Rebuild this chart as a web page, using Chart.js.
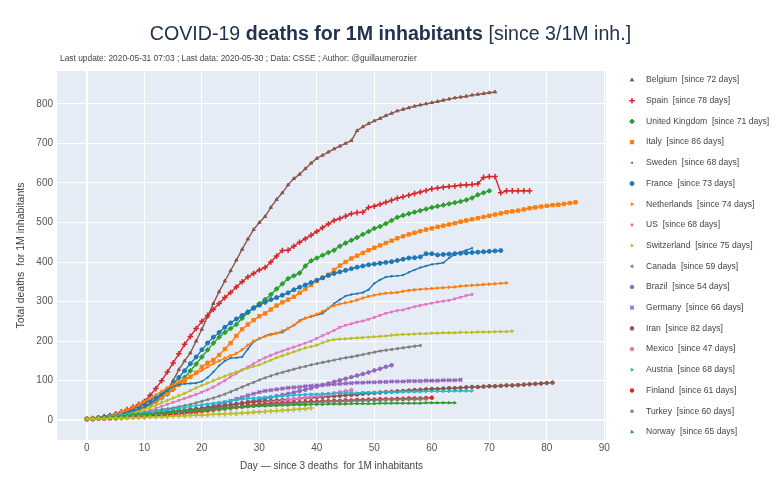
<!DOCTYPE html>
<html>
<head>
<meta charset="utf-8">
<script src="https://cdn.jsdelivr.net/npm/chart.js@4.4.0/dist/chart.umd.min.js"></script>
<style>
    body { margin: 0; background: #fff; font-family: "Liberation Sans", Arial, sans-serif; }
    #wrap { position: relative; width: 781px; height: 497px; }
    #wrap canvas { position: absolute; left: 0; top: 0; }
    #title { position: absolute; left: 0; width: 781px; top: 22px; text-align: center; font-size: 19.6px; color: #22334f; white-space: nowrap; }
    #sub { position: absolute; left: 60px; top: 53px; font-size: 8.4px; color: #444; white-space: nowrap; }
</style>
</head>
<body>
<div id="wrap">
    <canvas id="chart" width="781" height="497"></canvas>
    <div id="title">COVID-19 <b>deaths for 1M inhabitants</b> [since 3/1M inh.]</div>
    <div id="sub">Last update: 2020-05-31 07:03 ; Last data: 2020-05-30 ; Data: CSSE ; Author: @guillaumerozier</div>
</div>
<script>
// Deaths per 1M inhabitants, one value per day since 3 deaths / 1M
const belgium = [3,4,5,7,9,12,15,19,24,30, 36,43,52,62,75,100,128,150,170,200,
    230,262,295,325,352,378,405,432,458,482, 500,515,538,558,575,595,611,622,636,650,
    662,670,678,686,693,700,707,732,742,750, 757,763,770,776,782,786,790,794,797,800,
    803,806,809,812,815,817,819,822,824,826, 828,830];
const spain = [3,4,6,9,12,16,21,27,33,40, 48,63,80,100,122,145,168,192,212,232,
    250,265,280,295,310,323,337,350,362,371, 380,386,400,415,429,430,440,450,459,468,
    477,487,496,505,510,516,522,525,526,538, 541,546,551,556,561,565,569,573,577,581,
    585,587,589,591,592,594,595,596,598,614, 616,616,575,580,580,580,580,580];
const unitedKingdom = [3,4,5,7,9,11,14,17,21,26, 32,39,47,56,66,78,92,108,125,142,
    160,178,195,210,222,232,242,258,272,285, 295,305,318,332,345,358,365,372,390,403,
    410,417,424,430,440,448,455,462,470,477, 485,490,497,505,513,518,522,526,530,534,
    538,541,544,547,550,553,557,562,570,575, 580];
const italy = [3,4,6,7,10,13,17,20,24,28, 33,41,48,57,67,80,90,100,110,120,
    135,145,152,165,180,195,213,230,242,253, 263,270,280,290,298,305,312,322,332,342,
    352,360,368,380,391,400,409,416,423,430, 436,442,448,454,460,465,470,474,478,482,
    485,489,492,495,498,502,505,508,511,514, 517,520,523,526,528,530,533,536,538,540,
    542,544,545,547,549,551];
const sweden = [3,4,5,7,9,12,15,19,23,28, 33,42,52,64,76,86,90,92,93,94,
    98,108,122,138,150,157,158,160,180,198, 206,213,218,220,222,232,240,252,258,262,
    266,270,282,295,305,314,318,320,323,330, 346,355,362,364,365,367,374,380,386,390,
    394,396,398,410,420,425,430,435];
const france = [3,4,6,8,11,14,18,23,29,35, 42,50,58,67,78,92,108,125,143,160,
    178,195,210,222,235,246,256,265,274,283, 291,298,305,310,316,322,330,336,342,348,
    354,360,366,371,375,379,383,387,390,393, 395,397,399,401,404,407,410,411,413,421,
    421,418,419,420,421,422,423,424,425,426, 427,428,429];
const netherlands = [3,4,6,8,11,15,20,26,32,39, 47,55,64,73,82,90,98,104,110,118,
    126,135,143,150,157,163,169,178,190,200, 207,212,216,220,226,232,240,250,258,263,
    268,275,283,290,294,297,300,304,309,313, 316,319,321,322,323,326,328,330,331,332,
    333,334,335,336,337,339,340,341,342,343, 344,345,346,347];
const us = [3,4,5,6,8,10,12,14,16,18, 21,25,30,35,40,45,50,55,60,65,
    71,77,84,92,100,110,118,127,135,143, 151,158,164,170,175,180,185,190,195,200,
    207,214,220,227,235,240,244,248,251,255, 260,265,270,274,277,279,283,287,290,293,
    296,299,301,303,307,311,315,318];
const switzerland = [3,4,5,7,9,11,13,15,18,21, 27,32,38,44,50,56,62,68,75,82,
    88,94,100,106,111,117,122,127,132,136, 140,146,152,158,163,168,173,178,183,186,
    190,196,201,204,205,206,207,208,209,210, 211,212,213,215,216,217,217,218,219,219,
    220,220,221,221,221,222,222,222,223,223, 223,224,224,224,225];
const canada = [3,4,5,6,8,9,11,13,15,17, 19,22,24,27,29,31,34,37,40,44,
    48,52,56,61,66,72,78,84,90,96, 102,107,112,117,121,125,129,133,136,140,
    143,146,149,152,155,158,160,163,166,169, 172,175,177,179,181,183,185,187,189];
const brazil = [3,3,4,4,5,5,6,7,8,9, 11,12,13,15,16,18,20,21,23,25,
    27,29,31,33,36,38,41,43,46,49, 52,55,58,61,64,67,70,74,77,81,
    85,89,93,97,101,105,109,113,117,121, 126,130,135,139];
const germany = [3,3,4,4,5,6,7,8,9,10, 11,13,14,16,18,20,22,24,26,28,
    30,33,36,40,44,49,54,58,63,67, 71,74,76,78,80,82,83,84,86,87,
    88,89,90,91,92,93,94,95,95,96, 96,97,97,98,98,98,99,99,99,100,
    100,100,101,101,101,102];
const iran = [3,4,5,6,7,8,9,10,12,13, 15,16,18,19,21,22,24,25,27,28,
    30,32,33,35,37,39,41,43,45,46, 47,48,49,50,51,52,53,55,56,57,
    58,59,60,61,62,63,64,65,67,68, 69,70,71,72,73,74,75,76,77,78,
    79,79,80,81,81,82,83,84,84,85, 86,86,87,88,88,89,90,91,92,93,
    94,95];
const mexico = [3,3,4,4,5,5,6,7,8,9, 10,11,12,13,14,15,16,18,19,20,
    22,23,25,27,28,30,32,34,36,38, 40,42,44,46,48,51,53,55,58,60,
    62,64,66,68,71,73,76];
const austria = [3,5,6,8,10,11,13,14,16,17, 18,20,22,24,26,28,30,32,35,37,
    39,41,43,45,47,49,51,53,55,56, 57,58,59,60,61,62,63,64,65,66,
    66,67,67,68,68,69,69,69,70,70, 70,71,71,71,71,72,72,72,72,73,
    73,73,73,73,74,74,74,74];
const finland = [3,3,4,5,5,6,7,7,8,9, 10,11,12,13,14,15,17,18,20,21,
    23,25,27,29,31,32,34,35,37,38, 39,40,41,42,43,44,45,45,46,47,
    47,48,48,49,49,50,50,51,51,52, 52,53,53,53,54,54,55,55,55,56, 57];
const turkey = [3,4,5,6,7,8,9,10,11,12, 13,15,16,17,18,19,20,22,23,24,
    25,27,28,29,30,32,33,34,35,36, 37,38,39,40,41,42,43,43,44,45,
    45,46,47,47,48,48,49,49,50,50, 51,51,52,52,52,53,53,53,54,54];
const norway = [3,4,5,7,8,9,10,12,13,14, 15,16,17,18,19,20,22,23,24,25,
    26,27,28,29,30,31,32,33,34,35, 36,36,37,37,38,38,39,39,39,40,
    40,40,41,41,41,41,42,42,42,42, 42,43,43,43,43,43,43,43,43,44,
    44,44,44,44,44];
// short olive trace below the others; its legend entry is cut off in the original
const russia = [3,3,4,4,5,5,5,6,6,7, 7,8,8,9,9,10,11,11,12,13,
    13,14,15,15,16,17,17,18,19,20, 21,22,23,24,25,26,27,28,29,31];

const countries = ['Belgium', 'Spain', 'United Kingdom', 'Italy', 'Sweden', 'France', 'Netherlands', 'US',
    'Switzerland', 'Canada', 'Brazil', 'Germany', 'Iran', 'Mexico', 'Austria', 'Finland', 'Turkey', 'Norway', 'Russia'];
const values = [belgium, spain, unitedKingdom, italy, sweden, france, netherlands, us,
    switzerland, canada, brazil, germany, iran, mexico, austria, finland, turkey, norway, russia];
const yTicks = [0, 100, 200, 300, 400, 500, 600, 700, 800];
const xTicks = [0, 10, 20, 30, 40, 50, 60, 70, 80, 90];

// marker styles, same order as countries
const styles = [
    { color: '#8c564b', shape: 'triangle', r: 1.9 },
    { color: '#d62728', shape: 'cross', r: 2.8, bw: 1.5 },
    { color: '#2ca02c', shape: 'rectRot', r: 2.4 },
    { color: '#ff7f0e', shape: 'rect', r: 2.4 },
    { color: '#1f77b4', shape: 'triangle', r: 1, rot: 45 },
    { color: '#1f77b4', shape: 'circle', r: 2 },
    { color: '#ff7f0e', shape: 'triangle', r: 1.6, rot: 90 },
    { color: '#e377c2', shape: 'triangle', r: 1.6, rot: 180 },
    { color: '#bcbd22', shape: 'triangle', r: 1.6, rot: 90 },
    { color: '#7f7f7f', shape: 'triangle', r: 1.6, rot: 270 },
    { color: '#9467bd', shape: 'circle', r: 1.8 },
    { color: '#9467bd', shape: 'crossRot', r: 2.5, bw: 1.6 },
    { color: '#8c564b', shape: 'circle', r: 1.8 },
    { color: '#e377c2', shape: 'circle', r: 1.8 },
    { color: '#17becf', shape: 'triangle', r: 1.6, rot: -45 },
    { color: '#d62728', shape: 'circle', r: 1.8 },
    { color: '#7f7f7f', shape: 'star', r: 2 },
    { color: '#2ca02c', shape: 'triangle', r: 1.6, rot: 225 },
    { color: '#bcbd22', shape: 'cross', r: 2.5, bw: 1.6, hidden: true }
];

const datasets = countries.map((name, i) => {
    const s = styles[i];
    return {
        label: name + '  [since ' + values[i].length + ' days]',
        data: values[i].map((v, d) => ({ x: d, y: v })),
        borderColor: s.color,
        backgroundColor: s.color,
        borderWidth: 1.4,
        pointStyle: s.shape,
        pointRadius: s.r,
        pointRotation: s.rot || 0,
        pointBorderWidth: s.bw || 1,
        pointBackgroundColor: s.color,
        pointBorderColor: s.color,
        tension: 0,
        order: -i,
        noLegend: !!s.hidden
    };
});

// plot background like plotly
const plotBg = {
    id: 'plotBg',
    beforeDraw(chart) {
        const a = chart.chartArea;
        chart.ctx.save();
        chart.ctx.fillStyle = '#e5ecf6';
        chart.ctx.fillRect(a.left, a.top, a.right - a.left, a.bottom - a.top);
        chart.ctx.restore();
    }
};

// legend column on the right
const sideLegend = {
    id: 'sideLegend',
    afterDraw(chart) {
        const ctx = chart.ctx;
        ctx.save();
        ctx.font = '8.6px "Liberation Sans", Arial, sans-serif';
        ctx.textBaseline = 'middle';
        let row = 0;
        chart.data.datasets.forEach(ds => {
            if (ds.noLegend) return;
            const y = 80 + row * 20.7;
            ctx.fillStyle = ds.borderColor;
            ctx.strokeStyle = ds.borderColor;
            ctx.lineWidth = ds.pointBorderWidth;
            Chart.helpers.drawPoint(ctx, {
                pointStyle: ds.pointStyle,
                radius: ds.pointRadius,
                rotation: ds.pointRotation,
                borderWidth: ds.pointBorderWidth
            }, 632, y);
            ctx.fillStyle = '#444';
            ctx.fillText(ds.label, 646, y);
            row++;
        });
        ctx.restore();
    }
};

const ctx = document.getElementById('chart').getContext('2d');
new Chart(ctx, {
    type: 'line',
    data: { datasets: datasets },
    plugins: [plotBg, sideLegend],
    options: {
        responsive: false,
        animation: false,
        layout: { padding: { left: 0, top: 71, right: 175, bottom: 0 } },
        plugins: {
            legend: { display: false },
            tooltip: { enabled: false }
        },
        scales: {
            x: {
                type: 'linear',
                min: -5.2,
                max: 90.3,
                afterFit: s => { s.height = 57; },
                afterBuildTicks: s => { s.ticks = xTicks.map(v => ({ value: v })); },
                ticks: { color: '#555', font: { size: 10, family: '"Liberation Sans", Arial' }, padding: 2, includeBounds: false, maxRotation: 0 },
                grid: { color: '#fff', lineWidth: c => (c.tick && c.tick.value === 0 ? 2 : 1), drawTicks: false },
                border: { display: false },
                title: {
                    display: true,
                    text: 'Day — since 3 deaths  for 1M inhabitants',
                    color: '#444',
                    font: { size: 10, family: '"Liberation Sans", Arial' },
                    padding: { bottom: 25 }
                }
            },
            y: {
                type: 'linear',
                min: -50,
                max: 883,
                afterFit: s => { s.width = 57; },
                afterBuildTicks: s => { s.ticks = yTicks.map(v => ({ value: v })); },
                ticks: { color: '#555', font: { size: 10, family: '"Liberation Sans", Arial' }, padding: 4, includeBounds: false },
                grid: { color: '#fff', lineWidth: c => (c.tick && c.tick.value === 0 ? 2 : 1), drawTicks: false },
                border: { display: false },
                title: {
                    display: true,
                    text: 'Total deaths  for 1M inhabitants',
                    color: '#444',
                    font: { size: 10.5, family: '"Liberation Sans", Arial' },
                    padding: { top: 15 }
                }
            }
        }
    }
});
</script>
</body>
</html>
